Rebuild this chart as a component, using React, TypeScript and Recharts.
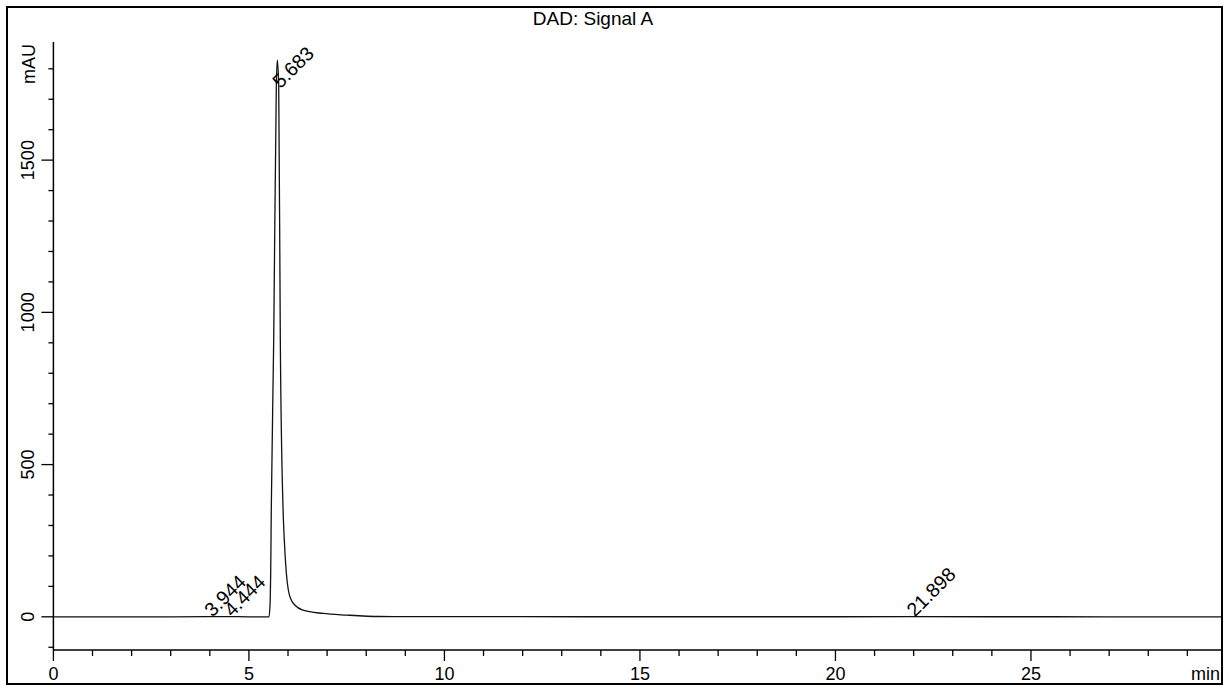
import React from 'react';
import { ComposedChart, Line, Scatter, XAxis, YAxis } from 'recharts';

// Retention time (min) and detector signal (mAU)
const time = [0, 1, 2, 3, 3.944, 4.444, 5, 5.514, 5.545, 5.557, 5.573, 5.634, 5.701, 5.726, 5.762, 5.803, 5.872, 5.905, 5.957, 6.008, 6.084, 6.179, 6.38, 6.895, 7.5, 8.35, 10, 12, 15, 18, 20, 21.898, 24, 27, 29.86];
const signal = [0, 0, 0, 0, 0.4, 0.6, 0, 0, 55, 144, 360, 909, 1746, 1828, 1746, 909, 360, 252, 144, 88, 55, 38, 22, 11, 5.6, 1, 0.5, 0.3, 0.2, 0.2, 0.2, 0.3, 0.2, 0.1, 0.1];

// Peak annotations
const peakTimes = [3.944, 4.444, 5.683, 21.898];
const peakHeights = [0, 0, 1736, 0];
const peakLabels = ['3.944', '4.444', '5.683', '21.898'];

// Axis ticks
const xTicks = [0, 1, 2, 3, 4, 5, 6, 7, 8, 9, 10, 11, 12, 13, 14, 15, 16, 17, 18, 19, 20, 21, 22, 23, 24, 25, 26, 27, 28, 29];
const xLabelTicks = [0, 5, 10, 15, 20, 25];
const yTicks = [-100, 0, 100, 200, 300, 400, 500, 600, 700, 800, 900, 1000, 1100, 1200, 1300, 1400, 1500, 1600, 1700, 1800];
const yLabelTicks = [0, 500, 1000, 1500];

const title = 'DAD: Signal A';
const yUnit = 'mAU';
const xUnit = 'min';

const data = time.map((t, i) => ({ t, v: signal[i] }));
const labelData = peakTimes.map((t, i) => ({ t, v: peakHeights[i], label: peakLabels[i] }));

const FONT = '"Liberation Sans", Arial, Helvetica, sans-serif';
const FS = 18;

const XTick = (props: any) => {
  const { x, y, payload } = props;
  const major = xLabelTicks.includes(payload.value);
  return (
    <g>
      <line x1={x} x2={x} y1={y} y2={y + (major ? 11 : 6)} stroke="#000" strokeWidth={1.3} />
      {major && (
        <text x={x} y={y + 30} textAnchor="middle" fontFamily={FONT} fontSize={FS} fill="#000">
          {payload.value}
        </text>
      )}
    </g>
  );
};

const YTick = (props: any) => {
  const { x, y, payload } = props;
  const major = yLabelTicks.includes(payload.value);
  const tx = x - 19;
  return (
    <g>
      <line x1={x - (major ? 12 : 5)} x2={x} y1={y} y2={y} stroke="#000" strokeWidth={1.3} />
      {major && (
        <text x={tx} y={y} transform={`rotate(-90 ${tx} ${y})`} textAnchor="middle" fontFamily={FONT} fontSize={FS} fill="#000">
          {payload.value}
        </text>
      )}
    </g>
  );
};

const PeakLabel = (props: any) => {
  const { cx, cy, payload } = props;
  if (cx == null || cy == null) return null;
  const px = cx + 5;
  const py = cy + 1;
  return (
    <text x={px} y={py} transform={`rotate(-45 ${px} ${py})`} fontFamily={FONT} fontSize={19.5} fill="#000">
      {payload.label}
    </text>
  );
};

export default function App() {
  return (
    <div style={{ position: 'absolute', left: 0, top: 0, width: 1229, height: 685, background: '#fff' }}>
      <div
        style={{
          position: 'absolute',
          left: 6,
          top: 6,
          width: 1217,
          height: 679,
          border: '2px solid #000',
          boxSizing: 'border-box',
        }}
      />
      <div style={{ position: 'absolute', left: 0, top: 0 }}>
        <ComposedChart width={1229} height={685} data={data} margin={{ top: 42, right: 8, bottom: 0, left: 0 }}>
          <XAxis
            dataKey="t"
            type="number"
            domain={[0, 29.86]}
            allowDataOverflow
            ticks={xTicks}
            interval={0}
            tick={<XTick />}
            tickLine={false}
            tickSize={0}
            tickMargin={0}
            height={35}
            axisLine={{ stroke: '#000', strokeWidth: 1.5 }}
          />
          <YAxis
            dataKey="v"
            type="number"
            domain={[-109, 1888]}
            allowDataOverflow
            ticks={yTicks}
            interval={0}
            tick={<YTick />}
            tickLine={false}
            tickSize={0}
            tickMargin={0}
            width={53.4}
            axisLine={{ stroke: '#000', strokeWidth: 1.5 }}
          />
          <Line
            dataKey="v"
            type="monotone"
            stroke="#111"
            strokeWidth={1.3}
            dot={false}
            activeDot={false}
            isAnimationActive={false}
          />
          <Scatter data={labelData} dataKey="v" shape={<PeakLabel />} isAnimationActive={false} />
        </ComposedChart>
      </div>
      <svg width={1229} height={685} style={{ position: 'absolute', left: 0, top: 0, pointerEvents: 'none' }}>
        <text x={593} y={25} textAnchor="middle" fontFamily={FONT} fontSize={19} fill="#000">
          {title}
        </text>
        <text x={34.5} y={64} transform="rotate(-90 34.5 64)" textAnchor="middle" fontFamily={FONT} fontSize={FS} fill="#000">
          {yUnit}
        </text>
        <text x={1220} y={680} textAnchor="end" fontFamily={FONT} fontSize={FS} fill="#000">
          {xUnit}
        </text>
      </svg>
    </div>
  );
}
